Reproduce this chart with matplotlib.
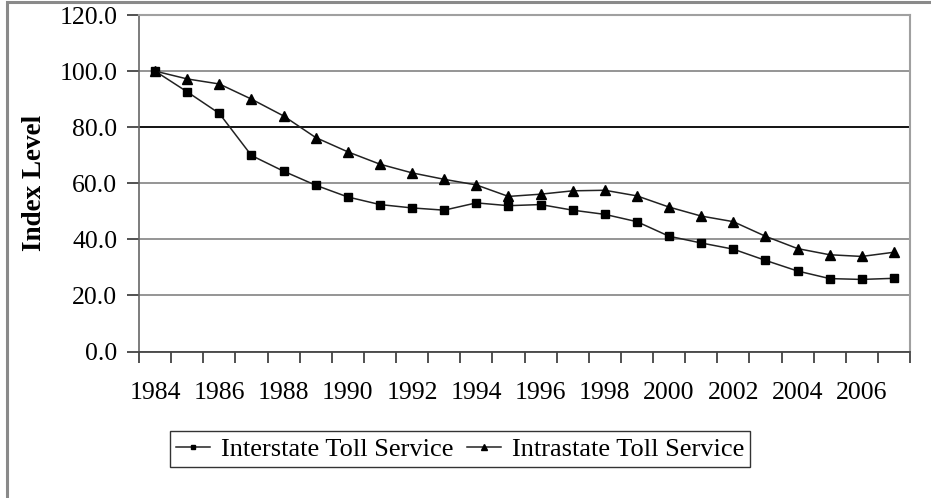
import numpy as np
import matplotlib.pyplot as plt
from matplotlib.patches import Rectangle

plt.rcParams['font.family'] = ['Liberation Serif', 'DejaVu Serif']

years = list(range(1984, 2008))
interstate = [100.0, 92.6, 84.9, 69.9, 64.3, 59.3, 55.1, 52.4, 51.2, 50.4, 53.0, 52.0,
              52.4, 50.4, 48.9, 46.3, 41.1, 38.7, 36.5, 32.5, 28.7, 26.0, 25.7, 26.1]
intrastate = [100.0, 97.2, 95.4, 90.0, 84.0, 76.3, 71.2, 66.8, 63.7, 61.4, 59.4, 55.3,
              56.1, 57.3, 57.5, 55.5, 51.5, 48.3, 46.3, 41.1, 36.7, 34.5, 33.9, 35.4]
y_ticks = [0, 20, 40, 60, 80, 100, 120]

fig = plt.figure(figsize=(9.31, 4.98), dpi=100)
ax = fig.add_axes([139 / 931, 1 - 351.5 / 498, (910 - 139) / 931, (351.5 - 15) / 498])

x = np.arange(len(years))
ax.plot(x, interstate, color="#222222", lw=1.1, marker="s", ms=6,
        mfc="black", mec="black", label="Interstate Toll Service")
ax.plot(x, intrastate, color="#222222", lw=1.1, marker="^", ms=7,
        mfc="black", mec="black", label="Intrastate Toll Service")

ax.set_xlim(-0.5, len(years) - 0.5)
ax.set_ylim(0, 120)

# tick marks between categories, labels on every other year
ax.set_xticks(np.arange(-0.5, len(years), 1.0))
ax.set_xticklabels([])
ax.set_xticks(x[::2], minor=True)
ax.set_xticklabels([str(y) for y in years[::2]], minor=True)
ax.tick_params(axis="x", which="major", direction="out", length=8, width=1.2, color="#333333")
ax.tick_params(axis="x", which="minor", length=0, pad=22, labelsize=18.5)

ax.set_yticks(y_ticks)
ax.set_yticklabels([f"{v:.1f}" for v in y_ticks])
ax.tick_params(axis="y", direction="out", length=9, width=1.2, color="#333333", pad=6.5, labelsize=18.5)

ax.yaxis.grid(True, color="#8c8c8c", lw=1.3)
ax.get_ygridlines()[4].set_color("black")
ax.set_axisbelow(True)

for side in ["top", "right"]:
    ax.spines[side].set_color("#a0a0a0")
    ax.spines[side].set_linewidth(1.5)
ax.spines["left"].set_color("#666666")
ax.spines["bottom"].set_color("#444444")
ax.spines["left"].set_linewidth(1.2)
ax.spines["bottom"].set_linewidth(1.3)

ax.set_ylabel("Index Level", fontsize=19.5, fontweight="bold", labelpad=9)

fig.legend(loc="center", bbox_to_anchor=(460 / 931, 1 - 449 / 498), ncol=2,
           fontsize=19, frameon=True, fancybox=False, edgecolor="#333333",
           framealpha=1, handlelength=1.3, markerscale=0.6, columnspacing=0.5,
           handletextpad=0.4, borderpad=0.25, borderaxespad=0)

# outer chart border
fig.patches.append(Rectangle((7 / 931, -0.1), 1.2, 1.1 - 2.5 / 498, transform=fig.transFigure,
                             fill=False, edgecolor="#8a8a8a", lw=2.2))

fig.savefig("out.png", dpi=100)
